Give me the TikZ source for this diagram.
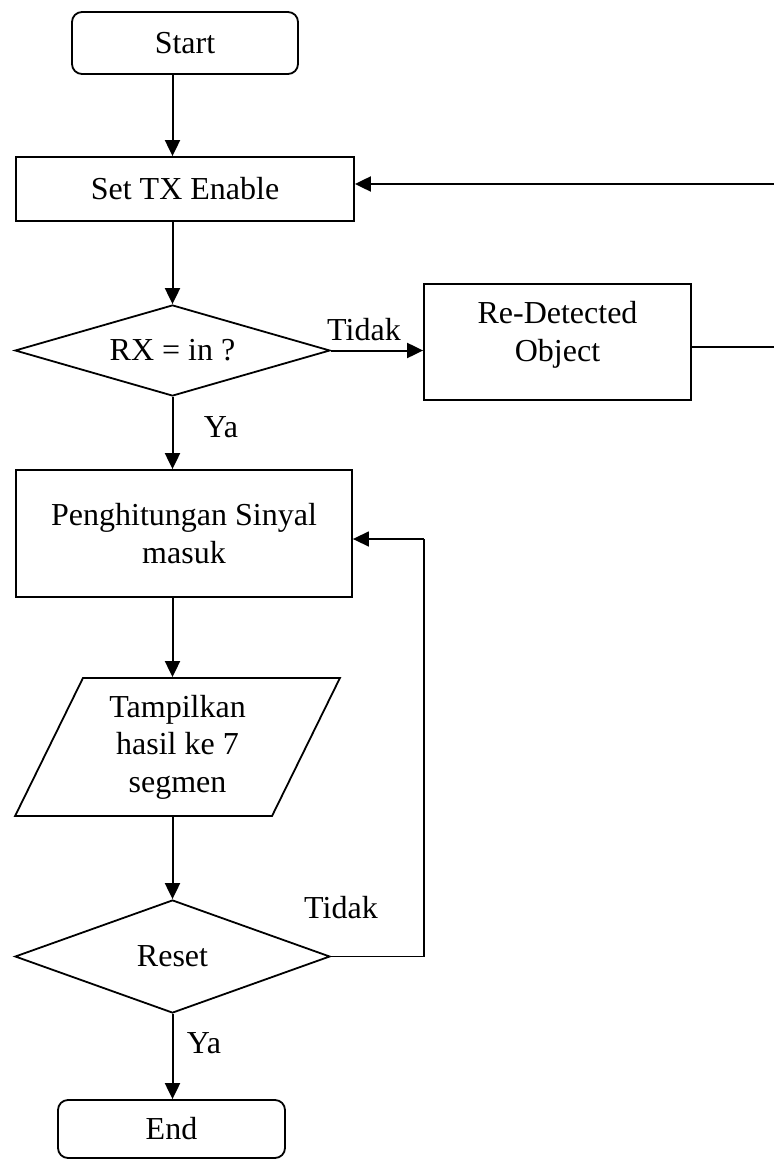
\documentclass[tikz,border=0pt]{standalone}
\usepackage{fontspec}
\setmainfont{Liberation Serif}
\usetikzlibrary{shapes.geometric,arrows.meta}
\begin{document}
\begin{tikzpicture}[x=0.5pt,y=-0.5pt,
  font=\fontsize{16}{18.75}\selectfont,
  base/.style={draw,line width=0.9pt,align=center,inner sep=0pt},
  term/.style={base,rounded corners=5pt,minimum width=113pt,minimum height=31pt},
  procbox/.style={base,rectangle},
  decide/.style={base,diamond,minimum width=157.5pt},
  iobox/.style={base,trapezium,trapezium left angle=64.8,trapezium right angle=115.2,trapezium stretches=true},
  flow/.style={line width=1pt,-{Triangle[length=8pt,width=7.5pt]}},
  thinline/.style={line width=0.6pt},
  fbflow/.style={line width=0.75pt,-{Triangle[length=8pt,width=7.5pt]}},
  lbl/.style={inner sep=0pt}]
\useasboundingbox (0,0) rectangle (774,1160);

\node[term] (start) at (185,43) {Start};
\node[procbox,minimum width=169pt,minimum height=32pt] (settx) at (185,189) {Set TX Enable};
\node[decide,aspect=3.46,minimum height=45.5pt] (rx) at (172.5,350.5) {RX = in ?};
\node[procbox,minimum width=133.5pt,minimum height=58pt,
  label={[align=center,yshift=3.5pt]center:Re-Detected\\Object}] (redet) at (557.5,342) {};
\node[procbox,minimum width=168pt,minimum height=63.5pt] (peng) at (184,533.5) {Penghitungan Sinyal\\masuk};
\node[iobox,minimum width=162.5pt,minimum height=69pt] (disp) at (177.5,747) {Tampilkan\\hasil ke 7\\segmen};
\node[decide,aspect=2.79,minimum height=56.5pt] (reset) at (172.5,956.5) {Reset};
\node[term,minimum width=113.5pt,minimum height=29pt] (end) at (171.5,1129) {End};

\coordinate (rgtlow) at (790,347);
\coordinate (rgtup) at (790,184);
\coordinate (lp) at (424,539);

\draw[flow] (rx.north |- start.south) -- (rx.north |- settx.north);
\draw[flow] (rx.north |- settx.south) -- (rx.north);
\draw[flow] (rx.east) -- (redet.west |- rx.east);
\node[lbl] (t1) at (364,330) {Tidak};
\draw[thinline] ([yshift=-2.5pt]redet.east) -- (rgtlow) -- (rgtup);
\draw[flow] (rgtup) -- (settx.east |- rgtup);
\draw[flow] (rx.south) -- (rx.south |- peng.north);
\node[lbl] (y1) at (221,427) {Ya};
\draw[flow] (rx.south |- peng.south) -- (rx.south |- disp.north);
\draw[flow] (reset.north |- disp.south) -- (reset.north);
\draw[thinline] (reset.east) -| (lp);
\draw[fbflow] (lp) -- (lp -| peng.east);
\node[lbl] (t2) at (341,908) {Tidak};
\draw[flow] (reset.south) -- (reset.south |- end.north);
\node[lbl] (y2) at (204,1043) {Ya};
\end{tikzpicture}
\end{document}
